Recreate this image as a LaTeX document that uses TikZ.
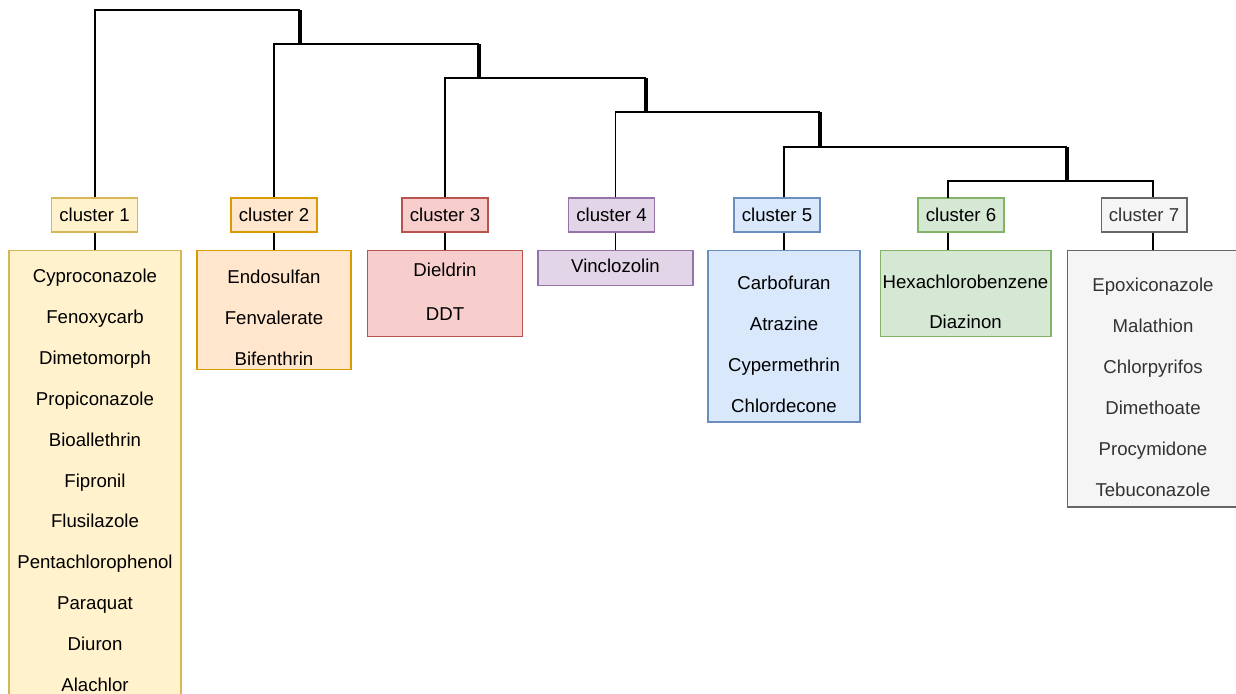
\documentclass[tikz,border=0pt]{standalone}
\usepackage{fontspec}
\setmainfont{Liberation Sans}
\usepackage{xcolor}
\usetikzlibrary{positioning}
\definecolor{yellowfill}{HTML}{FFF2CC}\definecolor{yellowline}{HTML}{D6B656}
\definecolor{orangefill}{HTML}{FFE6CC}\definecolor{orangeline}{HTML}{D79B00}
\definecolor{redfill}{HTML}{F8CECC}\definecolor{redline}{HTML}{B85450}
\definecolor{purplefill}{HTML}{E1D5E7}\definecolor{purpleline}{HTML}{9673A6}
\definecolor{bluefill}{HTML}{DAE8FC}\definecolor{blueline}{HTML}{6C8EBF}
\definecolor{greenfill}{HTML}{D5E8D4}\definecolor{greenline}{HTML}{82B366}
\definecolor{grayfill}{HTML}{F5F5F5}\definecolor{grayline}{HTML}{666666}
\definecolor{graytext}{HTML}{333333}
\tikzstyle{cluster} = [draw, rectangle, minimum width=1.72cm, minimum height=0.68cm, inner sep=0pt, line width=0.6pt, font=\fontsize{10.6}{12}\selectfont]
\tikzstyle{members} = [draw, rectangle, inner sep=0pt, align=center, line width=0.6pt, font=\fontsize{10.6}{8.2mm}\selectfont]
\tikzstyle{tree} = [line width=0.9pt]
\tikzstyle{joint} = [line width=1.8pt]
\newcommand{\toppad}[1]{\rule{0pt}{#1}}
\newcommand{\botpad}[1]{\rule[-#1]{0pt}{#1}}

\begin{document}
\begin{tikzpicture}[x=0.02cm, y=-0.02cm]
\useasboundingbox (0,0) rectangle (1236,693);

% Place cluster labels
\node [cluster, fill=yellowfill, draw=yellowline] (c1) at (94.5,215) {cluster 1};
\node [cluster, fill=orangefill, draw=orangeline] (c2) at (274,215) {cluster 2};
\node [cluster, fill=redfill, draw=redline] (c3) at (445,215) {cluster 3};
\node [cluster, fill=purplefill, draw=purpleline] (c4) at (611.5,215) {cluster 4};
\node [cluster, fill=bluefill, draw=blueline] (c5) at (777,215) {cluster 5};
\node [cluster, fill=greenfill, draw=greenline] (c6) at (961,215) {cluster 6};
\node [cluster, fill=grayfill, draw=grayline, text=graytext] (c7) at (1144,215) {cluster 7};

% Place member lists
\node [members, fill=yellowfill, draw=yellowline, text width=3.44cm, below=0.34cm of c1, xshift=0.01cm] (l1)
  {\toppad{6.4mm}Cyproconazole\\Fenoxycarb\\Dimetomorph\\Propiconazole\\Bioallethrin\\Fipronil\\Flusilazole\\Pentachlorophenol\\Paraquat\\Diuron\\Alachlor\botpad{4mm}};
\node [members, fill=orangefill, draw=orangeline, text width=3.08cm, below=0.34cm of c2] (l2)
  {\toppad{6.6mm}Endosulfan\\Fenvalerate\\Bifenthrin\botpad{0.8mm}};
\node [members, fill=redfill, draw=redline, text width=3.1cm, below=0.34cm of c3, font=\fontsize{10.6}{8.8mm}\selectfont] (l3)
  {\toppad{5.2mm}Dieldrin\\DDT\botpad{3.2mm}};
\node [members, fill=purplefill, draw=purpleline, text width=3.1cm, below=0.34cm of c4, xshift=0.08cm] (l4)
  {\toppad{4.4mm}Vinclozolin\botpad{2.6mm}};
\node [members, fill=bluefill, draw=blueline, text width=3.04cm, below=0.34cm of c5, xshift=0.14cm] (l5)
  {\toppad{7.8mm}Carbofuran\\Atrazine\\Cypermethrin\\Chlordecone\botpad{2mm}};
\node [members, fill=greenfill, draw=greenline, text width=3.42cm, below=0.34cm of c6, xshift=0.09cm, font=\fontsize{10.6}{8mm}\selectfont] (l6)
  {\toppad{7.6mm}Hexachlorobenzene\\Diazinon\botpad{1.6mm}};
\node [members, fill=grayfill, draw=grayline, text=graytext, text width=3.44cm, below=0.34cm of c7, xshift=0.18cm] (l7)
  {\toppad{8.2mm}Epoxiconazole\\Malathion\\Chlorpyrifos\\Dimethoate\\Procymidone\\Tebuconazole\botpad{2.2mm}};

% Joints of the tree
\coordinate (j0) at (300,10);
\coordinate (j1) at (479,44);
\coordinate (j2) at (646,78);
\coordinate (j3) at (820,112);
\coordinate (j4) at (1067,147);
\coordinate (j5) at (1067,181);
\coordinate (d6) at (948,198);

% Place tree lines
\draw [tree] (l1.north |- c1.north) |- (j0);
\draw [tree] (l2.north |- c2.north) |- (j1);
\draw [tree] (l3.north |- c3.north) |- (j2);
\draw [tree] (l4.north |- c4.north) |- (j3);
\draw [tree] (l5.north |- c5.north) |- (j4);
\draw [tree] (d6) |- (j5) -| (l7.north |- c7.north);
\draw [joint] (j0) -- (j0 |- j1);
\draw [joint] (j1) -- (j1 |- j2);
\draw [joint] (j2) -- (j2 |- j3);
\draw [joint] (j3) -- (j3 |- j4);
\draw [joint] (j4) -- (j5);

% Place label-to-list lines
\draw [tree] (l1.north |- c1.south) -- (l1.north);
\draw [tree] (l2.north |- c2.south) -- (l2.north);
\draw [tree] (l3.north |- c3.south) -- (l3.north);
\draw [tree] (l4.north |- c4.south) -- (l4.north);
\draw [tree] (l5.north |- c5.south) -- (l5.north);
\draw [tree] (d6 |- c6.south) -- (d6 |- l6.north);
\draw [tree] (l7.north |- c7.south) -- (l7.north);

\end{tikzpicture}
\end{document}
